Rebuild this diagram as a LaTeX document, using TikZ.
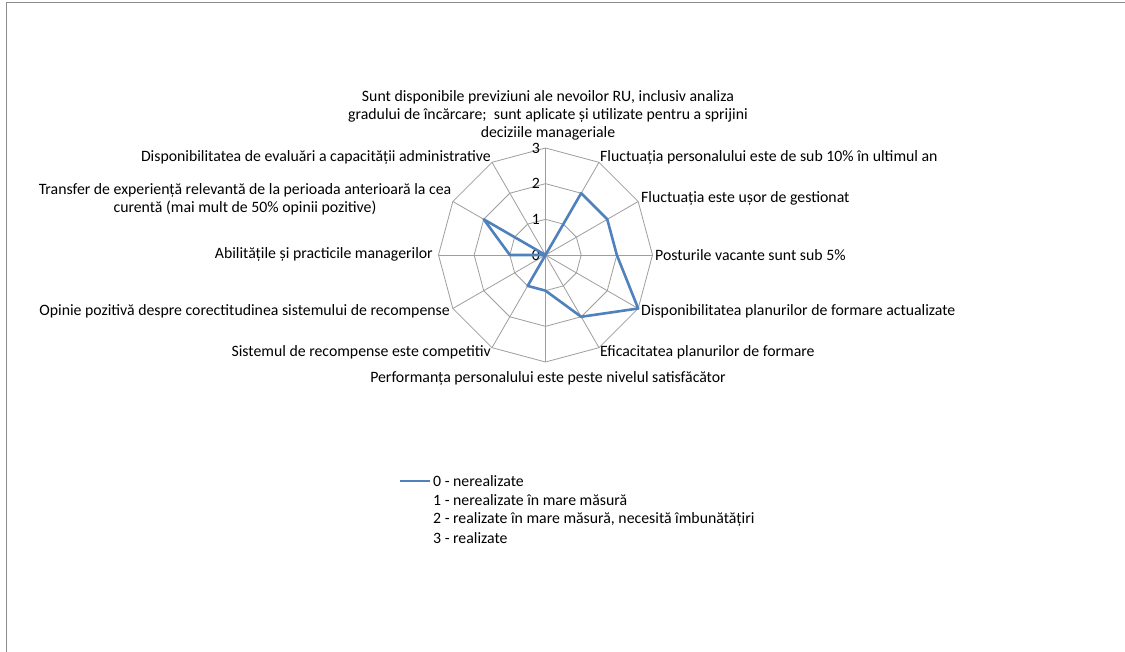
\documentclass[tikz,border=0pt]{standalone}
\usepackage{fontspec}
\setmainfont{Carlito}
\begin{document}
\begin{tikzpicture}[x=1bp,y=-1bp,
  gridline/.style={draw=black!38, line width=0.8bp},
  series/.style={draw=seriesblue, line width=2.6bp, line join=round},
  frameline/.style={draw=black!45, line width=1bp},
  lbl/.style={inner sep=0pt, font=\fontsize{15.8bp}{18bp}\selectfont, text=black},
  ticklbl/.style={inner sep=0pt, font=\fontsize{15.8bp}{18bp}\selectfont, anchor=east}]
\definecolor{seriesblue}{HTML}{4F81BD}
\useasboundingbox (0,0) rectangle (1125,652);
\fill[white] (0,0) rectangle (1125,652);
\draw[frameline] (6,652) -- (6,3) -- (1125,3);
\def\cx{545.5}\def\cy{255}\def\R{107}
% spokes
\foreach \i in {0,...,11}{
  \coordinate (v\i) at ({\cx+\R*cos(90-30*\i)},{\cy-\R*sin(90-30*\i)});
}
\coordinate (c) at (\cx,\cy);
\foreach \i in {0,...,11}{ \draw[gridline] (c) -- (v\i); }
% rings
\foreach \k in {1,2,3}{
  \draw[gridline] ({\cx+\k*\R/3*cos(90)},{\cy-\k*\R/3*sin(90)})
    \foreach \a in {60,30,0,-30,-60,-90,-120,-150,-180,-210,-240}{ -- ({\cx+\k*\R/3*cos(\a)},{\cy-\k*\R/3*sin(\a)}) } -- cycle;
}
% tick labels
\foreach \k in {0,1,2,3}{
  \node[ticklbl] (t\k) at (540,{\cy-\k*\R/3}) {\k};
}
% data
\foreach \v [count=\i from 0] in {0,2,2,2,3,2,1,1,0,1,2,0}{
  \coordinate (d\i) at ({\cx+\v*\R/3*cos(90-30*\i)},{\cy-\v*\R/3*sin(90-30*\i)});
}
\draw[series] (d0) -- (d1) -- (d2) -- (d3) -- (d4) -- (d5) -- (d6) -- (d7) -- (d8) -- (d9) -- (d10) -- (d11) -- cycle;
% axis labels
\node[lbl, anchor=south, align=center] (L0) at (548,140) {Sunt disponibile previziuni ale nevoilor RU, inclusiv analiza\\gradului de încărcare;\ \ sunt aplicate și utilizate pentru a sprijini\\deciziile manageriale};
\node[lbl, anchor=west] (L1) at (600,157) {Fluctuația personalului este de sub 10\% în ultimul an};
\node[lbl, anchor=west] (L2) at (641,198) {Fluctuația este ușor de gestionat};
\node[lbl, anchor=west] (L3) at (655,255) {Posturile vacante sunt sub 5\%};
\node[lbl, anchor=west] (L4) at (641,311) {Disponibilitatea planurilor de formare actualizate};
\node[lbl, anchor=west] (L5) at (600,352) {Eficacitatea planurilor de formare};
\node[lbl, anchor=center] (L6) at (548,378) {Performanța personalului este peste nivelul satisfăcător};
\node[lbl, anchor=east] (L7) at (491,352) {Sistemul de recompense este competitiv};
\node[lbl, anchor=east] (L8) at (450,311) {Opinie pozitivă despre corectitudinea sistemului de recompense};
\node[lbl, anchor=east] (L9) at (433,254) {Abilitățile și practicile managerilor};
\node[lbl, anchor=center, align=center] (L10) at (245,199) {Transfer de experiență relevantă de la perioada anterioară la cea\\curentă (mai mult de 50\% opinii pozitive)};
\node[lbl, anchor=east] (L11) at (491,157) {Disponibilitatea de evaluări a capacității administrative};
% legend
\coordinate (lg1) at (400,481);
\coordinate (lg2) at (430,481);
\draw[series] (lg1) -- (lg2);
\node[lbl, anchor=west] (G0) at (433,481) {0 - nerealizate};
\node[lbl, anchor=west] (G1) at (433,500) {1 - nerealizate în mare măsură};
\node[lbl, anchor=west] (G2) at (433,519) {2 - realizate în mare măsură, necesită îmbunătățiri};
\node[lbl, anchor=west] (G3) at (433,538) {3 - realizate};
\end{tikzpicture}
\end{document}
